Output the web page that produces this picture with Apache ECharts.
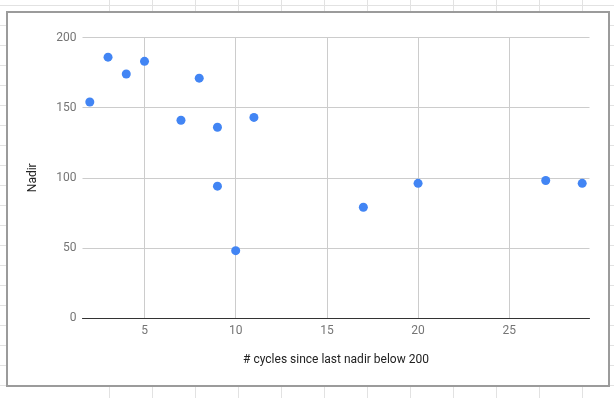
<!DOCTYPE html>
<html>
<head>
<meta charset="utf-8">
<script src="https://cdn.jsdelivr.net/npm/echarts@6/dist/echarts.min.js"></script>
<style>
  html, body { margin: 0; padding: 0; width: 614px; height: 398px; overflow: hidden; }
  body {
    background-color: #ffffff;
    background-image: linear-gradient(to bottom, #e2e2e2 1px, transparent 1px);
    background-size: 20px 20px;
    background-position: 0 5px;
  }
  #vlines {
    position: absolute; left: 109px; top: 0; width: 505px; height: 398px;
    background-image: linear-gradient(to right, #e2e2e2 1px, transparent 1px);
    background-size: 43px 20px;
    background-position: 0 0;
  }
  #box {
    position: absolute; left: 6px; top: 11px;
    width: 600px; height: 372px;
    border: 2px solid #9b9b9b; background: #ffffff;
  }
  #chart { width: 600px; height: 372px; }
</style>
</head>
<body>
<div id="vlines"></div>
<div id="box"><div id="chart"></div></div>
<script>
// Data
const cycles = [2, 3, 4, 5, 7, 8, 9, 9, 10, 11, 17, 20, 27, 29];
const nadir = [154, 186, 174, 183, 141, 171, 136, 94, 48, 143, 79, 96, 98, 96];
const xTicks = [5, 10, 15, 20, 25];
const xTitle = '# cycles since last nadir below 200';
const yTitle = 'Nadir';

const points = cycles.map((c, i) => [c, nadir[i]]);

const chart = echarts.init(document.getElementById('chart'), null, { renderer: 'canvas' });
const font = 'Roboto, "Noto Sans", sans-serif';
chart.setOption({
  animation: false,
  textStyle: { fontFamily: font },
  grid: { left: 74.5, right: 18.5, top: 24.5, bottom: 67, containLabel: false },
  xAxis: {
    type: 'value',
    min: 1.6,
    max: 29.4,
    name: xTitle,
    nameLocation: 'middle',
    nameGap: 36,
    nameTextStyle: { color: '#222222', fontSize: 12, fontFamily: font },
    axisLine: { show: true, onZero: true, lineStyle: { color: '#333333', width: 1 } },
    axisTick: { show: false, customValues: xTicks },
    axisLabel: { customValues: xTicks, color: '#757575', fontSize: 12, margin: 7, fontFamily: font },
    splitLine: { show: true, lineStyle: { color: '#cccccc', width: 1 } }
  },
  yAxis: {
    type: 'value',
    min: 0,
    max: 200,
    interval: 50,
    name: yTitle,
    nameLocation: 'middle',
    nameGap: 44,
    nameRotate: 90,
    nameTextStyle: { color: '#222222', fontSize: 12, fontFamily: font },
    axisLine: { show: false },
    axisTick: { show: false },
    axisLabel: { color: '#757575', fontSize: 12, margin: 6, fontFamily: font },
    splitLine: { show: true, lineStyle: { color: '#cccccc', width: 1 } }
  },
  series: [{
    type: 'scatter',
    data: points,
    symbol: 'circle',
    symbolSize: 9,
    itemStyle: { color: '#4285f4', opacity: 1 }
  }]
});
</script>
</body>
</html>
